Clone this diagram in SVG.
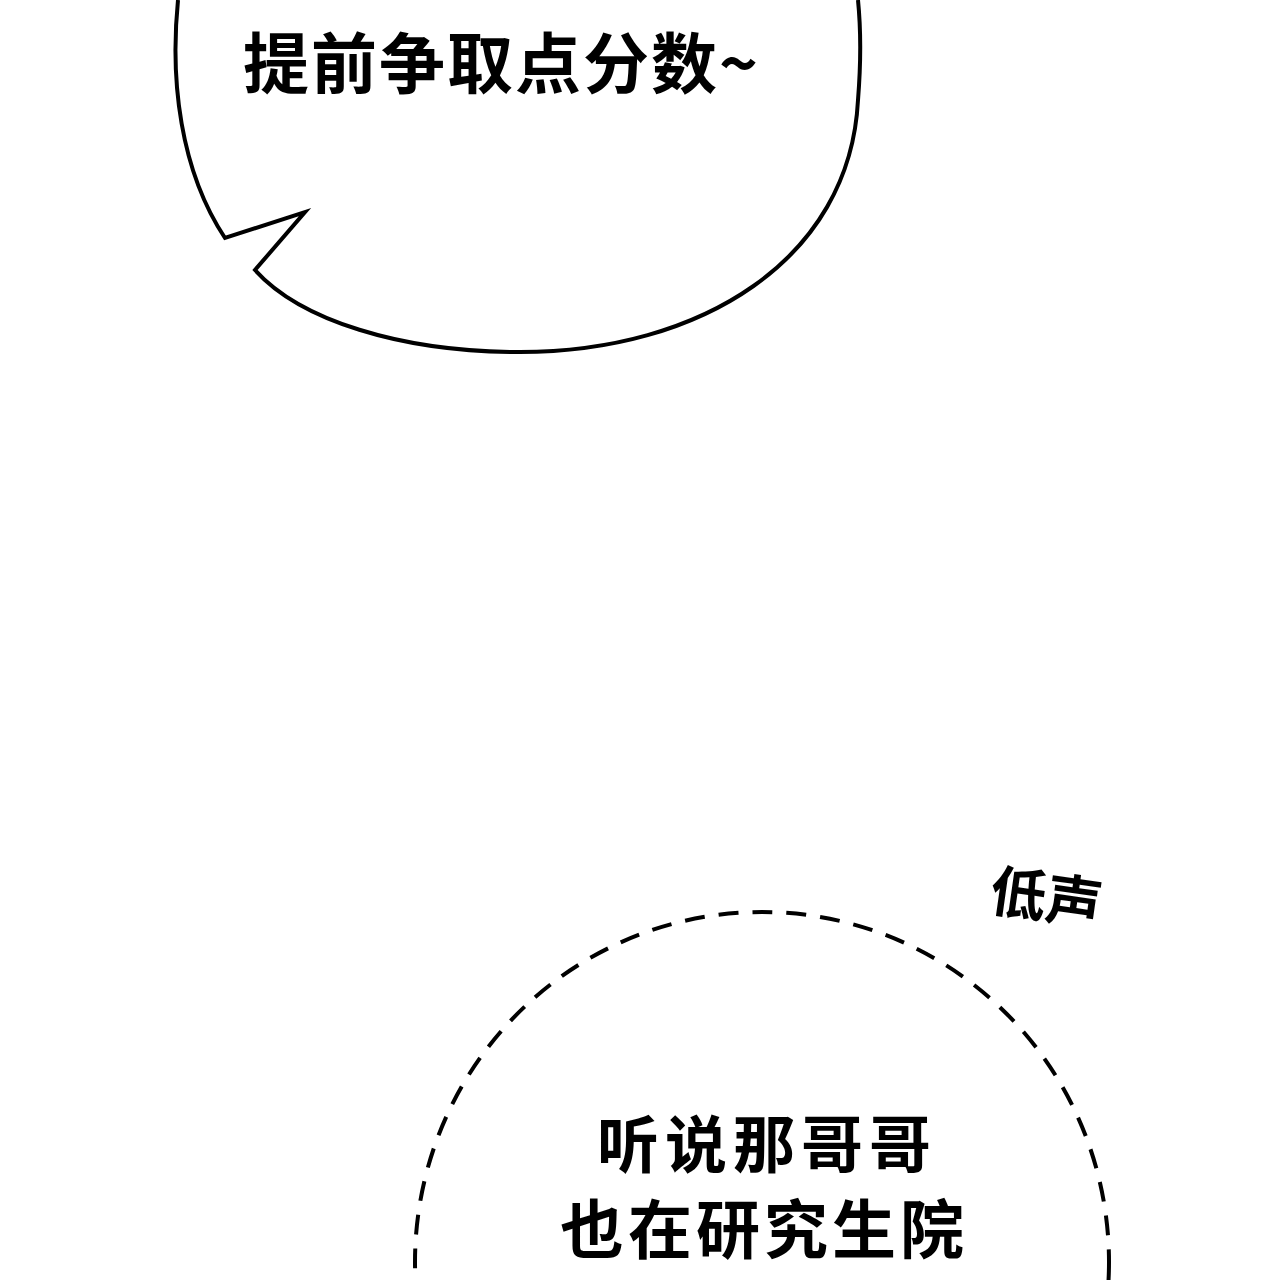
<svg xmlns="http://www.w3.org/2000/svg" width="1280" height="1280" viewBox="0 0 1280 1280">
<style>
.t{font-family:"Noto Sans CJK SC",sans-serif;font-weight:bold;fill:#000}
</style>
<rect width="1280" height="1280" fill="#fff"/>
<g id="bubble1">
<path d="M178,0 C170,80 180,170 225,238 L305,212 L255,270 C300,320 400,352 520,352 C700,352 850,260 858,100 C862,50 860,20 858,0" fill="#fff" stroke="#000" stroke-width="4"/>
<text class="t" x="243" y="88" font-size="66" letter-spacing="2">提前争取点分数~</text>
</g>
<g id="bubble2">
<ellipse cx="762" cy="1262" rx="347" ry="350" fill="none" stroke="#000" stroke-width="4" stroke-dasharray="20 14"/>
<text class="t" x="597" y="1168" font-size="62" letter-spacing="6">听说那哥哥</text>
<text class="t" x="560" y="1253" font-size="64" letter-spacing="4">也在研究生院</text>
</g>
<g id="sfx">
<text class="t" x="0" y="0" font-size="56" transform="translate(988,910) rotate(8)">低声</text>
</g>
</svg>
